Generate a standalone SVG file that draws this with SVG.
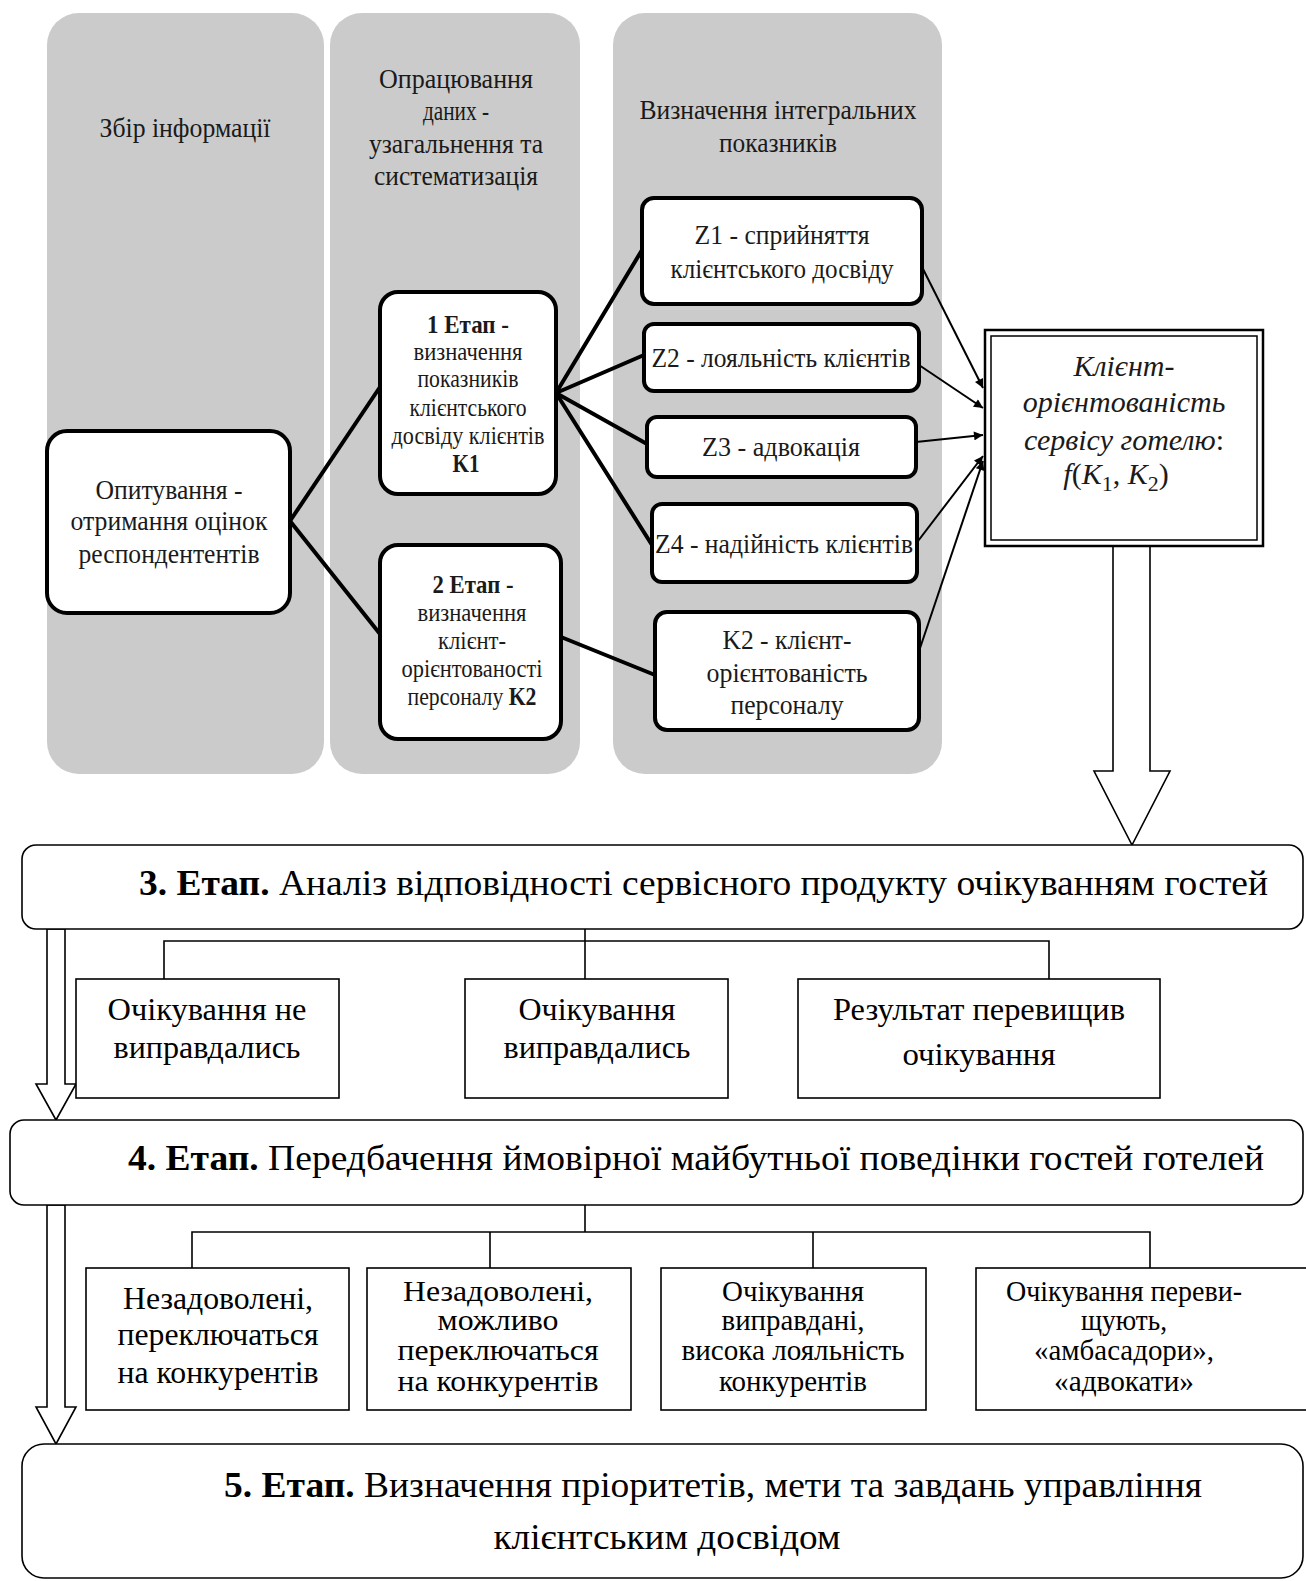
<svg xmlns="http://www.w3.org/2000/svg" width="1306" height="1581" viewBox="0 0 1306 1581">
<defs>
<style>
.panel{fill:#cbcbcb;stroke:none}
.nb{fill:#fff;stroke:#000;stroke-width:4}
.tb{fill:#fff;stroke:#000;stroke-width:1.6}
.c{font-family:"Liberation Serif","Times New Roman",serif;fill:#1a1a1a;text-anchor:middle}
.t27{font-size:28px}
.t24{font-size:26px}
.b{font-weight:bold}
.it{font-style:italic;font-size:30px}
.big{font-family:"Liberation Serif","Times New Roman",serif;font-size:36px;fill:#000}
.mid{font-family:"Liberation Serif","Times New Roman",serif;font-size:31px;fill:#000;text-anchor:middle}
.sm{font-size:30px}
.thick{stroke:#000;stroke-width:4;fill:none;stroke-linecap:round}
.thin{stroke:#000;stroke-width:2;fill:none}
.tree{stroke:#000;stroke-width:1.6;fill:none}
.hollow{fill:#fff;stroke:#000;stroke-width:1.6;stroke-linejoin:miter}
</style>
<marker id="ah" viewBox="0 0 10 10" refX="10" refY="5" markerWidth="11" markerHeight="9" markerUnits="userSpaceOnUse" orient="auto">
<path d="M0,0 L10,5 L0,10 z" fill="#000"/>
</marker>
</defs>

<g id="panels">
<rect class="panel" x="47" y="13" width="277" height="761" rx="32"/>
<rect class="panel" x="330" y="13" width="250" height="761" rx="32"/>
<rect class="panel" x="613" y="13" width="329" height="761" rx="32"/>
<text class="c t27" x="185" y="137" textLength="171" lengthAdjust="spacingAndGlyphs">Збір інформації</text>
<text class="c t27" x="456" y="88" textLength="154" lengthAdjust="spacingAndGlyphs">Опрацювання</text>
<text class="c t27" x="456" y="120" textLength="66" lengthAdjust="spacingAndGlyphs">даних -</text>
<text class="c t27" x="456" y="153" textLength="174" lengthAdjust="spacingAndGlyphs">узагальнення та</text>
<text class="c t27" x="456" y="185" textLength="164" lengthAdjust="spacingAndGlyphs">систематизація</text>
<text class="c t27" x="778" y="119" textLength="277" lengthAdjust="spacingAndGlyphs">Визначення інтегральних</text>
<text class="c t27" x="778" y="152" textLength="118" lengthAdjust="spacingAndGlyphs">показників</text>
</g>

<g id="connectors">
<line class="thick" x1="290" y1="521" x2="380" y2="387"/>
<line class="thick" x1="290" y1="521" x2="380" y2="634"/>
<line class="thick" x1="556" y1="393" x2="642" y2="250"/>
<line class="thick" x1="556" y1="393" x2="644" y2="355"/>
<line class="thick" x1="556" y1="393" x2="647" y2="444"/>
<line class="thick" x1="556" y1="393" x2="652" y2="545"/>
<line class="thick" x1="561" y1="637" x2="655" y2="675"/>
<line class="thin" x1="921" y1="265" x2="983" y2="388" marker-end="url(#ah)"/>
<line class="thin" x1="913" y1="361" x2="983" y2="408" marker-end="url(#ah)"/>
<line class="thin" x1="916" y1="442" x2="983" y2="435" marker-end="url(#ah)"/>
<line class="thin" x1="915" y1="545" x2="983" y2="456" marker-end="url(#ah)"/>
<line class="thin" x1="914" y1="666" x2="983" y2="461" marker-end="url(#ah)"/>
<polygon class="hollow" points="1113,546 1150,546 1150,771 1170,771 1132,845 1094,771 1113,771"/>
<polygon class="hollow" points="47,929 65,929 65,1084 76,1084 56,1120 36,1084 47,1084"/>
<polygon class="hollow" points="47,1205 65,1205 65,1407 76,1407 56,1444 36,1407 47,1407"/>
<path class="tree" d="M585,929 V941 M164,979 V941 H1049 V979 M585,941 V979"/>
<path class="tree" d="M585,1205 V1232 M192,1268 V1232 H1150 V1268 M490,1232 V1268 M813,1232 V1268"/>
</g>

<g id="n-survey">
<rect class="nb" x="47" y="431" width="243" height="182" rx="20"/>
<text class="c t27" x="169" y="499" textLength="147" lengthAdjust="spacingAndGlyphs">Опитування -</text>
<text class="c t27" x="169" y="530" textLength="197" lengthAdjust="spacingAndGlyphs">отримання оцінок</text>
<text class="c t27" x="169" y="563" textLength="181" lengthAdjust="spacingAndGlyphs">респондентентів</text>
</g>

<g id="n-stage1">
<rect class="nb" x="380" y="292" width="176" height="202" rx="18"/>
<text class="c t24 b" x="468" y="333" textLength="82" lengthAdjust="spacingAndGlyphs">1 Етап -</text>
<text class="c t24" x="468" y="360" textLength="109" lengthAdjust="spacingAndGlyphs">визначення</text>
<text class="c t24" x="468" y="387" textLength="101" lengthAdjust="spacingAndGlyphs">показників</text>
<text class="c t24" x="468" y="416" textLength="117" lengthAdjust="spacingAndGlyphs">клієнтського</text>
<text class="c t24" x="468" y="444" textLength="153" lengthAdjust="spacingAndGlyphs">досвіду клієнтів</text>
<text class="c t24 b" x="466" y="472" textLength="27" lengthAdjust="spacingAndGlyphs">K1</text>
</g>

<g id="n-stage2">
<rect class="nb" x="380" y="545" width="181" height="194" rx="18"/>
<text class="c t24 b" x="473" y="593" textLength="81" lengthAdjust="spacingAndGlyphs">2 Етап -</text>
<text class="c t24" x="472" y="621" textLength="109" lengthAdjust="spacingAndGlyphs">визначення</text>
<text class="c t24" x="472" y="649" textLength="68" lengthAdjust="spacingAndGlyphs">клієнт-</text>
<text class="c t24" x="472" y="677" textLength="141" lengthAdjust="spacingAndGlyphs">орієнтованості</text>
<text class="c t24" x="472" y="705" textLength="129" lengthAdjust="spacingAndGlyphs">персоналу <tspan class="b">K2</tspan></text>
</g>

<g id="n-z1">
<rect class="nb" x="642" y="198" width="280" height="106" rx="12"/>
<text class="c t27" x="782" y="244" textLength="175" lengthAdjust="spacingAndGlyphs">Z1 - сприйняття</text>
<text class="c t27" x="782" y="278" textLength="223" lengthAdjust="spacingAndGlyphs">клієнтського досвіду</text>
</g>

<g id="n-z2">
<rect class="nb" x="644" y="324" width="275" height="67" rx="10"/>
<text class="c t27" x="781" y="367" textLength="259" lengthAdjust="spacingAndGlyphs">Z2 - лояльність клієнтів</text>
</g>

<g id="n-z3">
<rect class="nb" x="647" y="417" width="269" height="60" rx="10"/>
<text class="c t27" x="781" y="456" textLength="158" lengthAdjust="spacingAndGlyphs">Z3 - адвокація</text>
</g>

<g id="n-z4">
<rect class="nb" x="652" y="504" width="265" height="78" rx="10"/>
<text class="c t27" x="784" y="553" textLength="258" lengthAdjust="spacingAndGlyphs">Z4 - надійність клієнтів</text>
</g>

<g id="n-k2">
<rect class="nb" x="655" y="612" width="264" height="118" rx="12"/>
<text class="c t27" x="787" y="649" textLength="129" lengthAdjust="spacingAndGlyphs">K2 - клієнт-</text>
<text class="c t27" x="787" y="682" textLength="161" lengthAdjust="spacingAndGlyphs">орієнтованість</text>
<text class="c t27" x="787" y="714" textLength="113" lengthAdjust="spacingAndGlyphs">персоналу</text>
</g>

<g id="n-result">
<rect x="985" y="330" width="278" height="216" fill="#fff" stroke="#000" stroke-width="2.5"/>
<rect x="991" y="336" width="266" height="204" fill="none" stroke="#000" stroke-width="1.5"/>
<text class="c it" x="1124" y="376">Клієнт-</text>
<text class="c it" x="1124" y="412">орієнтованість</text>
<text class="c it" x="1124" y="450">сервісу готелю<tspan font-style="normal">:</tspan></text>
<text class="c it" x="1116" y="484" font-size="34" fill="#222">f<tspan font-style="normal">(</tspan>K<tspan font-style="normal" font-size="22" dy="7">1</tspan><tspan font-style="normal" dy="-7">, </tspan>K<tspan font-style="normal" font-size="22" dy="7">2</tspan><tspan font-style="normal" dy="-7">)</tspan></text>
</g>

<g id="n-stage3">
<rect class="tb" x="22" y="845" width="1281" height="84" rx="14"/>
<text class="big" x="139" y="895" textLength="1129" lengthAdjust="spacingAndGlyphs"><tspan font-weight="bold">3. Етап.</tspan> Аналіз відповідності сервісного продукту очікуванням гостей</text>
</g>

<g id="n-r1">
<rect class="tb" x="76" y="979" width="263" height="119"/>
<text class="mid" x="207" y="1020" textLength="199" lengthAdjust="spacingAndGlyphs">Очікування не</text>
<text class="mid" x="207" y="1058" textLength="187" lengthAdjust="spacingAndGlyphs">виправдались</text>
</g>
<g id="n-r2">
<rect class="tb" x="465" y="979" width="263" height="119"/>
<text class="mid" x="597" y="1020" textLength="157" lengthAdjust="spacingAndGlyphs">Очікування</text>
<text class="mid" x="597" y="1058" textLength="187" lengthAdjust="spacingAndGlyphs">виправдались</text>
</g>
<g id="n-r3">
<rect class="tb" x="798" y="979" width="362" height="119"/>
<text class="mid" x="979" y="1020" textLength="292" lengthAdjust="spacingAndGlyphs">Результат перевищив</text>
<text class="mid" x="979" y="1065" textLength="153" lengthAdjust="spacingAndGlyphs">очікування</text>
</g>

<g id="n-stage4">
<rect class="tb" x="10" y="1120" width="1293" height="85" rx="14"/>
<text class="big" x="128" y="1170" textLength="1136" lengthAdjust="spacingAndGlyphs"><tspan font-weight="bold">4. Етап.</tspan> Передбачення ймовірної майбутньої поведінки гостей готелей</text>
</g>

<g id="n-s1">
<rect class="tb" x="86" y="1268" width="263" height="142"/>
<text class="mid" x="218" y="1309" textLength="190" lengthAdjust="spacingAndGlyphs">Незадоволені,</text>
<text class="mid" x="218" y="1345" textLength="201" lengthAdjust="spacingAndGlyphs">переключаться</text>
<text class="mid" x="218" y="1383" textLength="201" lengthAdjust="spacingAndGlyphs">на конкурентів</text>
</g>
<g id="n-s2">
<rect class="tb" x="367" y="1268" width="264" height="142"/>
<text class="mid sm" x="498" y="1301" textLength="190" lengthAdjust="spacingAndGlyphs">Незадоволені,</text>
<text class="mid sm" x="498" y="1330" textLength="121" lengthAdjust="spacingAndGlyphs">можливо</text>
<text class="mid sm" x="498" y="1360" textLength="201" lengthAdjust="spacingAndGlyphs">переключаться</text>
<text class="mid sm" x="498" y="1391" textLength="201" lengthAdjust="spacingAndGlyphs">на конкурентів</text>
</g>
<g id="n-s3">
<rect class="tb" x="661" y="1268" width="265" height="142"/>
<text class="mid sm" x="793" y="1301" textLength="142" lengthAdjust="spacingAndGlyphs">Очікування</text>
<text class="mid sm" x="793" y="1330" textLength="143" lengthAdjust="spacingAndGlyphs">виправдані,</text>
<text class="mid sm" x="793" y="1360" textLength="223" lengthAdjust="spacingAndGlyphs">висока лояльність</text>
<text class="mid sm" x="793" y="1391" textLength="148" lengthAdjust="spacingAndGlyphs">конкурентів</text>
</g>
<g id="n-s4">
<rect class="tb" x="976" y="1268" width="340" height="142"/>
<text class="mid sm" x="1124" y="1301" textLength="236" lengthAdjust="spacingAndGlyphs">Очікування переви-</text>
<text class="mid sm" x="1124" y="1330" textLength="86" lengthAdjust="spacingAndGlyphs">щують,</text>
<text class="mid sm" x="1124" y="1360" textLength="180" lengthAdjust="spacingAndGlyphs">«амбасадори»,</text>
<text class="mid sm" x="1124" y="1391" textLength="140" lengthAdjust="spacingAndGlyphs">«адвокати»</text>
</g>

<g id="n-stage5">
<rect class="tb" x="22" y="1444" width="1281" height="134" rx="22"/>
<text class="big" x="224" y="1497" textLength="978" lengthAdjust="spacingAndGlyphs"><tspan font-weight="bold">5. Етап.</tspan> Визначення пріоритетів, мети та завдань управління</text>
<text class="big" x="667" y="1549" text-anchor="middle" textLength="347" lengthAdjust="spacingAndGlyphs">клієнтським досвідом</text>
</g>
</svg>
